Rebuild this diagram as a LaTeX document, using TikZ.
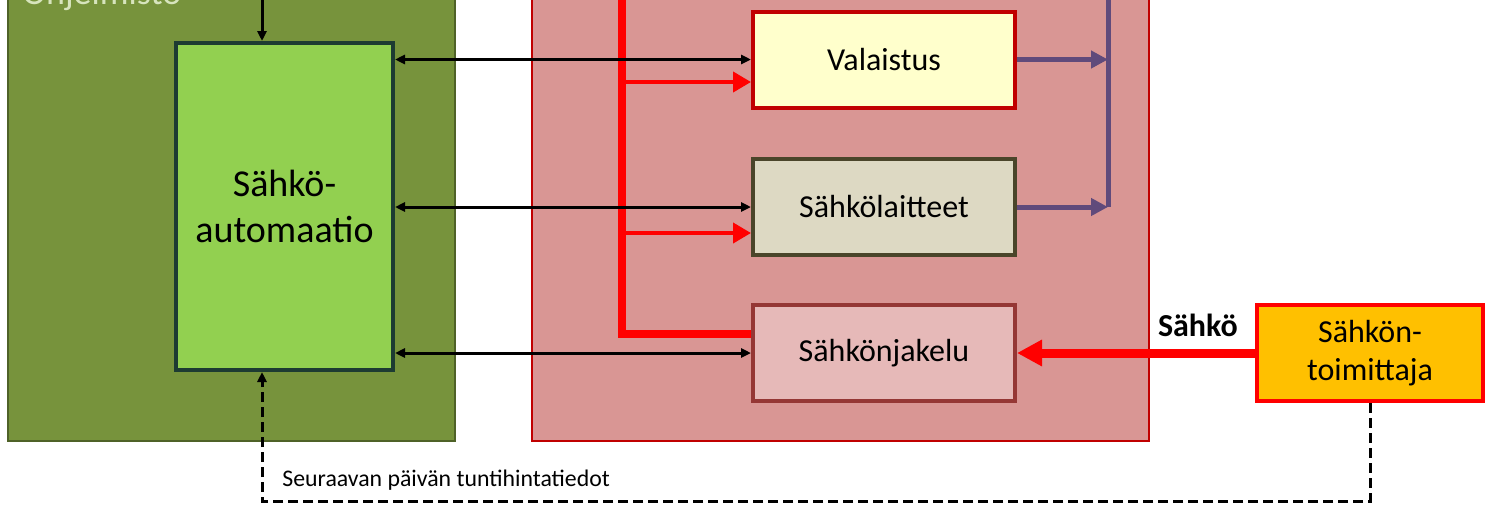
\documentclass[tikz,border=0pt]{standalone}
\usepackage{fontspec}
\setmainfont{Carlito}
\usetikzlibrary{arrows.meta}
\definecolor{ohjgreen}{HTML}{77933C}
\definecolor{ohjedge}{HTML}{4F6228}
\definecolor{ohjtext}{HTML}{D7E4BD}
\definecolor{autogreen}{HTML}{92D050}
\definecolor{autoedge}{HTML}{1D3B32}
\definecolor{tilapink}{HTML}{D99694}
\definecolor{tilaedge}{HTML}{C00000}
\definecolor{valofill}{HTML}{FFFFCC}
\definecolor{laitefill}{HTML}{DDD9C3}
\definecolor{laiteedge}{HTML}{4A452A}
\definecolor{jakfill}{HTML}{E6B9B8}
\definecolor{jakedge}{HTML}{953735}
\definecolor{toimfill}{HTML}{FFC000}
\definecolor{lampo}{HTML}{604A7B}

\begin{document}
\begin{tikzpicture}[x=0.5pt,y=-0.5pt,
  every node/.style={font=\fontsize{16}{19}\selectfont,inner sep=0pt,align=center},
  kuorma/.style={draw,line width=2pt,minimum width=131pt,minimum height=48pt},
  ohjaus/.style={line width=1.5pt,{Triangle[length=5pt,width=4.5pt]}-{Triangle[length=5pt,width=4.5pt]}},
  syotto/.style={red,line width=2pt,-{Triangle[length=9pt,width=10pt]}},
  kulutus/.style={draw=lampo,line width=2.5pt,-{Triangle[length=8.5pt,width=8.5pt]}},
  hinta/.style={line width=1.5pt,dash pattern=on 5pt off 2.5pt,-{Triangle[length=5pt,width=4.5pt]}}]
\useasboundingbox (0,0) rectangle (1495,520);
\clip (0,0) rectangle (1495,520);
% kehykset
\draw[ohjedge,fill=ohjgreen,line width=1pt] (8,-20) rectangle (455,441);
\draw[tilaedge,fill=tilapink,line width=1pt] (532,-20) rectangle (1149,441);
\node[anchor=base west,text=ohjtext,font=\fontsize{18}{22}\selectfont] (ohjlabel) at (22,4) {Ohjelmisto};
% laatikot
\node[draw=autoedge,fill=autogreen,line width=2pt,minimum width=108.5pt,minimum height=163.5pt,
  font=\fontsize{19}{23}\selectfont] (auto) at (284.5,206.5) {Sähkö-\\automaatio};
\node[kuorma,draw=tilaedge,fill=valofill] (valo) at (884,59.5) {Valaistus};
\node[kuorma,draw=laiteedge,fill=laitefill] (laitteet) at (884,207) {Sähkölaitteet};
\node[kuorma,draw=jakedge,fill=jakfill] (jakelu) at (884,353) {Sähkönjakelu};
\node[kuorma,draw=red,fill=toimfill,minimum width=113pt] (toim) at (1370,353) {Sähkön-\\toimittaja};
% sahkonsyotto
\coordinate (runko) at (622,-10);
\draw[red,line width=4pt] (runko) |- (jakelu.west |- 0,334);
\draw[syotto] (runko |- 0,82) -- (valo.west |- 0,82);
\draw[syotto] (runko |- 0,233) -- (laitteet.west |- 0,233);
\draw[red,line width=4.5pt,-{Triangle[length=12.5pt,width=12.5pt]}] (toim.west) --
  node[pos=0.24,above=6pt,text=black,font=\bfseries\fontsize{16}{19}\selectfont] (sahko) {Sähkö} (jakelu.east);
% kulutus
\coordinate (keruu) at (1108,-10);
\draw[lampo,line width=2.5pt] (keruu) -- (keruu |- laitteet.east);
\draw[kulutus] (valo.east) -- (keruu |- valo.east);
\draw[kulutus] (laitteet.east) -- (keruu |- laitteet.east);
% ohjaus
\coordinate (ulkoa) at (262,-10);
\draw[line width=1.5pt,-{Triangle[length=5pt,width=4.5pt]}] (ulkoa) -- (ulkoa |- auto.north);
\draw[ohjaus] (auto.east |- valo.west) -- (valo.west);
\draw[ohjaus] (auto.east |- laitteet.west) -- (laitteet.west);
\draw[ohjaus] (auto.east |- jakelu.west) -- (jakelu.west);
\draw[hinta] (toim.south) -- (toim.south |- 0,501) -| (auto.south -| 262,0);
\node[anchor=west,font=\fontsize{11.9}{14}\selectfont] (hintatieto) at (282,480) {Seuraavan päivän tuntihintatiedot};
\end{tikzpicture}
\end{document}
